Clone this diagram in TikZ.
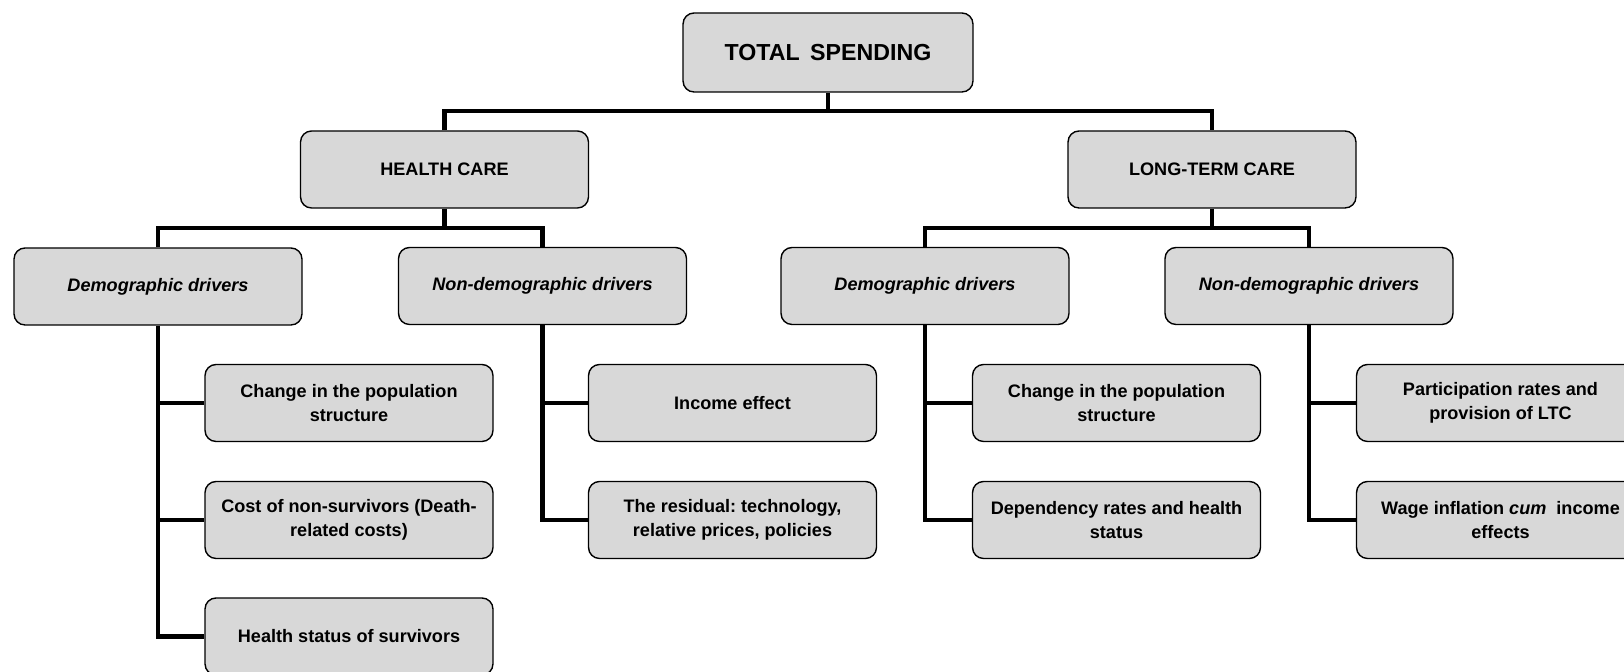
\documentclass[tikz,border=0pt]{standalone}
\usepackage{fontspec}
\setmainfont{Liberation Sans}
\usetikzlibrary{positioning}
\definecolor{boxgray}{RGB}{216,216,216}
\frenchspacing
\tikzset{>=latex}
\tikzset{box/.style={draw=black,line width=0.8pt,fill=boxgray,rounded corners=0.22cm,
    minimum width=5.76cm,minimum height=1.54cm,align=center,
    font=\fontsize{10.3}{13.6}\selectfont\bfseries},
  conn/.style={line width=2.4pt}}

\begin{document}
\begin{tikzpicture}[x=0.02cm,y=0.02cm]
\useasboundingbox (0,0) rectangle (1624,672);
% top levels
\node[box,minimum width=5.8cm,minimum height=1.58cm,font=\fontsize{13.2}{15}\selectfont\bfseries] (total) at (828,619.5) {TOTAL\hspace{0.45em}SPENDING};
\node[box] (hc) at (444.5,502.5) {HEALTH CARE};
\node[box] (ltc) at (1212,502.5) {LONG-TERM CARE};
\node[box] (hcdem) at (158,385.5) {\textit{Demographic drivers}};
\node[box] (hcnon) at (542.5,386) {\textit{Non-demographic drivers}};
\node[box] (ltcdem) at (925,386) {\textit{Demographic drivers}};
\node[box] (ltcnon) at (1309,386) {\textit{Non-demographic drivers}};
% drivers
\node[box] (hcd1) at (349,269) {Change in the population\\structure};
\node[box] (hcd2) at (349,152) {Cost of non-survivors (Death-\\related costs)};
\node[box] (hcd3) at (349,35.5) {Health status of survivors};
\node[box] (hcn1) at (732.5,269) {Income effect};
\node[box] (hcn2) at (732.5,152) {The residual: technology,\\relative prices, policies};
\node[box] (ltd1) at (1116.5,269) {Change in the population\\structure};
\node[box] (ltd2) at (1116.5,152) {Dependency rates and health\\status};
\node[box] (ltn1) at (1500.5,269) {Participation rates and\\provision of LTC};
\node[box] (ltn2) at (1500.5,152) {Wage inflation \textit{cum}\ \ income\\effects};
% connectors
\coordinate (topbar) at (828,561);
\coordinate (hcbar) at (444.5,444);
\coordinate (ltcbar) at (1212,444);
\draw[conn] (total.south) -- (topbar);
\draw[conn] (hc.north) |- (topbar) -| (ltc.north);
\draw[conn] (hc.south) -- (hcbar);
\draw[conn] (hcdem.north) |- (hcbar) -| (hcnon.north);
\draw[conn] (ltc.south) -- (ltcbar);
\draw[conn] (ltcdem.north) |- (ltcbar) -| (ltcnon.north);
\draw[conn] (hcdem.south) |- (hcd3.west);
\draw[conn] (hcd1.west) -| (hcdem.south);
\draw[conn] (hcd2.west) -| (hcdem.south);
\draw[conn] (hcnon.south) |- (hcn2.west);
\draw[conn] (hcn1.west) -| (hcnon.south);
\draw[conn] (ltcdem.south) |- (ltd2.west);
\draw[conn] (ltd1.west) -| (ltcdem.south);
\draw[conn] (ltcnon.south) |- (ltn2.west);
\draw[conn] (ltn1.west) -| (ltcnon.south);
\end{tikzpicture}
\end{document}
